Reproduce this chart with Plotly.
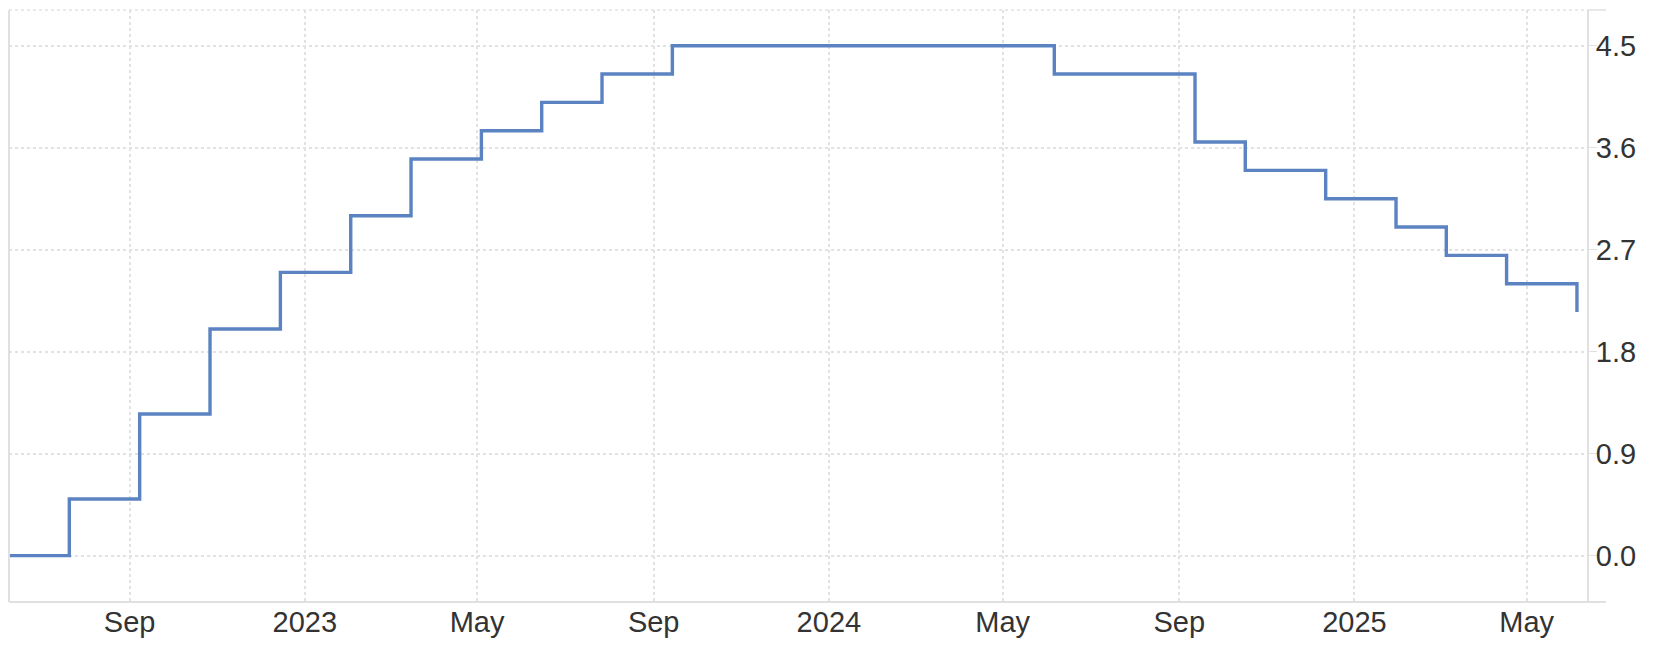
import plotly.graph_objects as go

# rate decisions (announcement dates) and the rate in %
dates = ["2022-06-09", "2022-07-21", "2022-09-08", "2022-10-27", "2022-12-15",
         "2023-02-02", "2023-03-16", "2023-05-04", "2023-06-15", "2023-07-27",
         "2023-09-14", "2024-06-06", "2024-09-12", "2024-10-17", "2024-12-12",
         "2025-01-30", "2025-03-06", "2025-04-17", "2025-06-05"]
rates = [0.0, 0.5, 1.25, 2.0, 2.5,
         3.0, 3.5, 3.75, 4.0, 4.25,
         4.5, 4.25, 3.65, 3.40, 3.15,
         2.90, 2.65, 2.40, 2.15]

x_tickvals = ["2022-09-01", "2023-01-01", "2023-05-01", "2023-09-01", "2024-01-01",
              "2024-05-01", "2024-09-01", "2025-01-01", "2025-05-01"]
x_ticktext = ["Sep", "2023", "May", "Sep", "2024", "May", "Sep", "2025", "May"]
y_tickvals = [0.0, 0.9, 1.8, 2.7, 3.6, 4.5]
y_ticktext = ["0.0", "0.9", "1.8", "2.7", "3.6", "4.5"]

GRID = "#e2e2e2"
AXIS = "#e0e0e0"

fig = go.Figure()
fig.add_trace(go.Scatter(
    x=dates, y=rates, mode="lines",
    line=dict(color="#5b83c2", width=3.4, shape="hv"),
    hoverinfo="x+y", showlegend=False,
))

# page body adds 8px around the figure, so size it to fit the window
fig.update_layout(
    width=1660, height=656,
    margin=dict(l=1, r=81, t=2, b=62),
    paper_bgcolor="white", plot_bgcolor="white",
    font=dict(family="Liberation Sans, Arial, sans-serif", size=29, color="#333333"),
    xaxis=dict(
        range=["2022-06-09", "2025-06-12"],
        tickvals=x_tickvals, ticktext=x_ticktext,
        showgrid=True, gridcolor=GRID, griddash="dot", gridwidth=1.5,
        showline=False, zeroline=False, ticks="",
    ),
    yaxis=dict(
        side="right", range=[-0.409, 4.815],
        tickvals=y_tickvals, ticktext=y_ticktext,
        showgrid=True, gridcolor=GRID, griddash="dot", gridwidth=1.5,
        showline=True, linecolor=AXIS, linewidth=2,
        ticks="outside", ticklen=8, tickcolor=AXIS, tickwidth=1,
        ticklabelstandoff=-7,
        zeroline=False,
    ),
    shapes=[
        # top dotted border
        dict(type="line", xref="paper", yref="paper", x0=0, x1=1, y0=1, y1=1,
             line=dict(color=GRID, width=1.5, dash="dot")),
        dict(type="line", xref="paper", yref="paper", x0=1, x1=1.012, y0=1, y1=1,
             line=dict(color=AXIS, width=1.5)),
        # bottom axis line, running past the right axis
        dict(type="line", xref="paper", yref="paper", x0=0, x1=1.012, y0=0, y1=0,
             line=dict(color=AXIS, width=2)),
        # left edge
        dict(type="line", xref="paper", yref="paper", x0=0, x1=0, y0=0, y1=1,
             line=dict(color=AXIS, width=2)),
    ],
)

fig.write_html("out.html")
